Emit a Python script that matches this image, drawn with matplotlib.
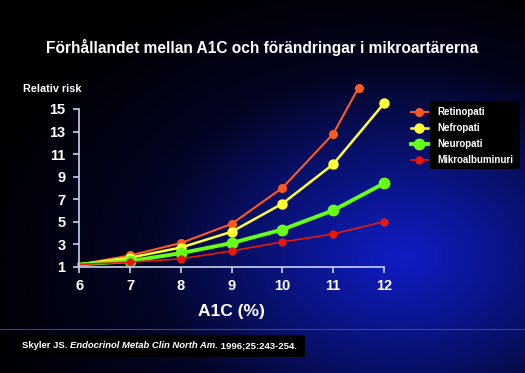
import numpy as np
import matplotlib
matplotlib.use("Agg")
import matplotlib.pyplot as plt
from matplotlib.patches import Rectangle

plt.rcParams['font.family'] = ['Liberation Sans', 'DejaVu Sans']

# data
a1c = [6, 7, 8, 9, 10, 11, 12]
a1c_retino = [6, 7, 8, 9, 10, 11, 11.5]
retinopati = [1.2, 2.0, 3.1, 4.8, 8.0, 12.8, 16.9]
nefropati = [1.2, 1.8, 2.7, 4.1, 6.6, 10.1, 15.5]
neuropati = [1.2, 1.5, 2.2, 3.1, 4.3, 6.0, 8.4]
mikroalb = [1.2, 1.4, 1.7, 2.4, 3.2, 3.9, 5.0]
y_ticks = [1, 3, 5, 7, 9, 11, 13, 15]

W, H = 525, 373
fig = plt.figure(figsize=(W / 100, H / 100), dpi=100)

# background: black with a blue glow right of centre
bg = fig.add_axes([0, 0, 1, 1])
yy, xx = np.mgrid[0:H, 0:W]
core = np.clip(1 - np.hypot((xx - 410) / 260.0, (yy - 255) / 190.0), 0, 1) ** 0.9
wide = np.clip(1 - np.hypot((xx - 380) / 420.0, (yy - 260) / 300.0), 0, 1)
b = 0.45 * core + 0.33 * wide
img = np.dstack([0.08 * b, 0.15 * b, np.clip(b, 0, 1)])
bg.imshow(img, extent=[0, W, H, 0], aspect='auto')
bg.set_xlim(0, W)
bg.set_ylim(H, 0)
bg.axis('off')
# thin separator line above the citation
bg.plot([0, W], [329, 329], color='#2a4ad0', lw=0.8, alpha=0.9)
# citation box
bg.add_patch(Rectangle((15, 335), 290, 22, facecolor='black', edgecolor='none'))
# legend box
bg.add_patch(Rectangle((430, 101), 90, 68, facecolor='black', edgecolor='none'))

ax = fig.add_axes([79.3 / W, 1 - 266.7 / H, (384 - 79.3) / W, (266.7 - 109) / H])
ax.set_facecolor('none')

series = [
    (a1c_retino, retinopati, 'Retinopati', '#ff5a1f', 1.5, 5.5),
    (a1c, nefropati, 'Nefropati', '#ffff33', 1.8, 6.5),
    (a1c, neuropati, 'Neuropati', '#66ff1a', 2.8, 7.5),
    (a1c, mikroalb, 'Mikroalbuminuri', '#e8180c', 1.2, 5),
]
for xs, ys, lab, col, lw, ms in series:
    ax.plot(xs, ys, color=col, lw=lw, marker='o', ms=ms, markevery=slice(1, None),
            label=lab, clip_on=False)

ax.set_xlim(6, 12)
ax.set_ylim(1, 15)
ax.set_xticks(a1c)
ax.set_yticks(y_ticks)
for s in ['top', 'right']:
    ax.spines[s].set_visible(False)
for s in ['left', 'bottom']:
    ax.spines[s].set_color('#c8d4ee')
    ax.spines[s].set_linewidth(1.2)
ax.tick_params(colors='#c8d4ee', length=4, width=1.2)
ax.tick_params(axis='x', pad=5)
ax.tick_params(axis='y', pad=6)
for t in ax.get_xticklabels() + ax.get_yticklabels():
    t.set_color('white')
    t.set_fontsize(10.5)
    t.set_fontweight('bold')

ax.set_xlabel('A1C (%)', color='white', fontsize=12.5, fontweight='bold', labelpad=8)
fig.text(23 / W, 1 - 89 / H, 'Relativ risk', color='white', fontsize=7.8,
         fontweight='bold', va='center', ha='left')

fig.text(0.5, 1 - 47 / H, 'Förhållandet mellan A1C och förändringar i mikroartärerna',
         color='white', fontsize=11.2, fontweight='bold', ha='center', va='center')

leg = fig.legend(loc='upper left', bbox_to_anchor=(411 / W, 1 - 107 / H), frameon=False,
                 fontsize=7, handlelength=1.7, handletextpad=1.0,
                 labelspacing=0.62, borderpad=0, borderaxespad=0)
for t in leg.get_texts():
    t.set_color('white')
    t.set_fontweight('bold')

t1 = fig.text(22 / W, 1 - 346 / H, 'Skyler JS. ', color='white', fontsize=6.8,
              fontweight='bold', va='center', ha='left')
t2 = ax.annotate('Endocrinol Metab Clin North Am.', xy=(1, 0), xycoords=t1,
                 va='bottom', ha='left', color='white', fontsize=6.8,
                 fontweight='bold', fontstyle='italic')
ax.annotate(' 1996;25:243-254.', xy=(1, 0), xycoords=t2, va='bottom', ha='left',
            color='white', fontsize=6.8, fontweight='bold')

fig.savefig('out.png', dpi=100, facecolor='black')
